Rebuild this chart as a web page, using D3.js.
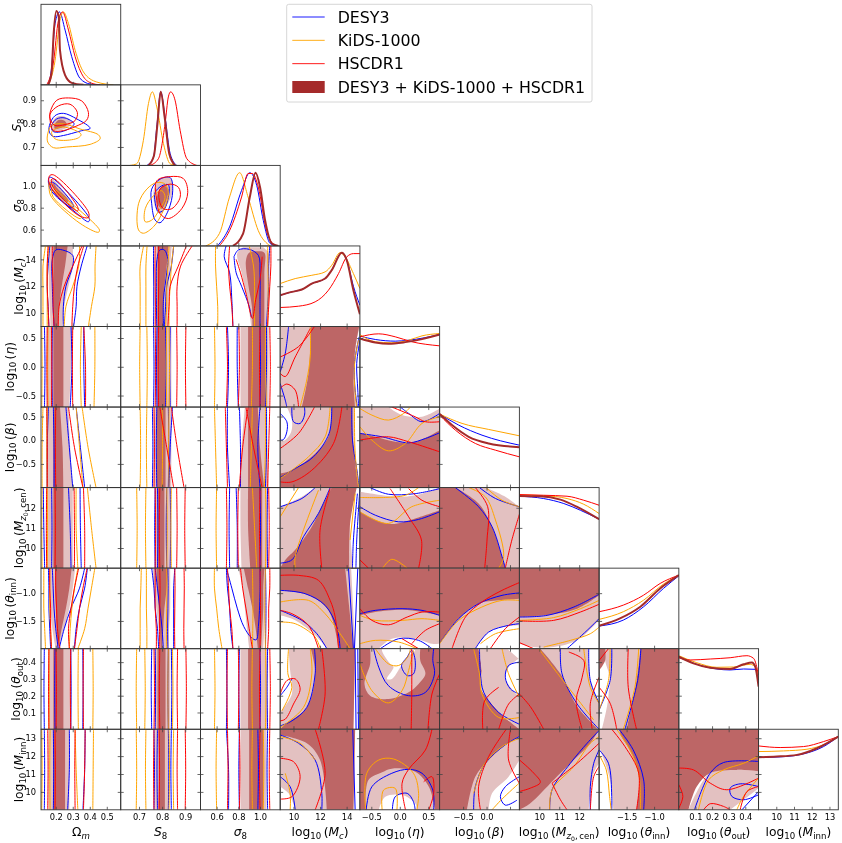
<!DOCTYPE html>
<html><head><meta charset="utf-8">
<script src="https://cdn.jsdelivr.net/npm/d3@7"></script>
<style>html,body{margin:0;padding:0;background:#fff}svg{display:block;font-family:"DejaVu Sans",sans-serif;filter:blur(.3px)}</style>
</head><body><svg id="c" width="842" height="843"></svg>
<script>
// ---- axes ----
const paramRanges=[[0.1135,0.582],[0.621,0.966],[0.451,1.186],[9,15],[-0.7,0.7],[-1,0.7],[9,13],[-2,-0.55],[0,0.48],[9,13.5]];
const tickValues=[[0.2,0.3,0.4,0.5],[0.7,0.8,0.9],[0.6,0.8,1.0],[10,12,14],[-0.5,0,0.5],[-0.5,0,0.5],[10,11,12],[-1.5,-1.0],[0.1,0.2,0.3,0.4],[10,11,12,13]];
const xTickLabelValues=[[0.2,0.3,0.4,0.5],[0.7,0.8,0.9],[0.6,0.8,1.0],[10,12,14],[-0.5,0,0.5],[-0.5,0],[10,11,12],[-1.5,-1.0],[0.1,0.2,0.3,0.4],[10,11,12,13]];
const tickFormats=[".1f",".1f",".1f","d",".1f",".1f","d",".1f",".1f","d"];
const legendNames=["DESY3","KiDS-1000","HSCDR1","DESY3 + KiDS-1000 + HSCDR1"];
// sample heights of the near-vertical contours in rows 3..9
const rowSamples={3:[15,13.5,12,10.5,9],4:[0.7,0.35,0,-0.35,-0.7],5:[0.7,0.275,-0.15,-0.575,-1],6:[13,12,11,10,9],7:[-0.55,-0.91,-1.27,-1.64,-2],8:[0.48,0.36,0.24,0.12,0],9:[13.5,12.375,11.25,10.125,9]};

// ---- 1D marginals: [value, relative density] ----
const d0={k:[[.155,0],[.175,.14],[.188,.64],[.204,.917],[.218,.845],[.225,.43],[.255,.12],[.294,.025],[.363,0]],
 b:[[.157,0],[.176,.22],[.196,.76],[.222,.905],[.255,.68],[.294,.35],[.343,.08],[.402,.01],[.461,0]],
 o:[[.157,0],[.196,.3],[.225,.8],[.245,.905],[.275,.76],[.314,.43],[.363,.16],[.441,.035],[.539,0]],
 r:[[.147,0],[.186,.27],[.216,.8],[.24,.905],[.275,.68],[.314,.35],[.363,.1],[.412,.02],[.461,0]]};
const d1={o:[[.661,0],[.69,.02],[.719,.311],[.741,.768],[.758,.913],[.777,.726],[.806,.27],[.835,.02],[.863,0]],
 b:[[.734,0],[.763,.104],[.777,.477],[.794,.913],[.813,.6],[.835,.145],[.863,0]],
 r:[[.748,0],[.784,.083],[.813,.519],[.827,.85],[.837,.913],[.856,.81],[.878,.436],[.907,.083],[.95,0]],
 k:[[.741,0],[.765,.124],[.78,.519],[.794,.913],[.811,.6],[.831,.145],[.856,0]]};
const d2={o:[[.5,0],[.625,.153],[.719,.607],[.8125,.909],[.89,.607],[.984,.19],[1.094,0]],
 b:[[.609,0],[.719,.236],[.83,.69],[.906,.909],[.97,.75],[1.03,.318],[1.094,.03],[1.156,0]],
 r:[[.625,0],[.719,.19],[.83,.607],[.89,.9],[.93,.9],[.984,.731],[1.06,.19],[1.14,0]],
 k:[[.75,0],[.844,.153],[.906,.607],[.9594,.909],[1.0,.731],[1.047,.318],[1.11,.03],[1.17,0]]};
const d3_={k:[[9,.388],[9.88,.43],[10.63,.459],[11.38,.533],[12.38,.595],[12.88,.70],[13.64,.917],[14.01,.822],[14.51,.45],[15,.153]],
 b:[[9,.388],[9.88,.43],[10.63,.459],[11.38,.533],[12.38,.595],[12.88,.70],[13.64,.917],[14.01,.83],[14.51,.5],[15,.264]],
 o:[[9,.533],[10.13,.595],[11.38,.636],[12.38,.678],[12.88,.76],[13.51,.917],[13.89,.864],[14.51,.657],[15,.471]],
 r:[[9,.236],[10.38,.252],[11.63,.306],[12.63,.45],[13.39,.657],[14.01,.864],[14.51,.905],[15,.905]]};
const d4={k:[[-.7,.851],[-.43,.802],[-.2,.785],[.097,.806],[.39,.843],[.7,.90]],
 b:[[-.7,.88],[-.43,.839],[-.08,.818],[.155,.83],[.7,.90]],
 o:[[-.7,.90],[-.43,.81],[-.14,.798],[.155,.83],[.39,.884],[.7,.913]],
 r:[[-.7,.872],[-.37,.909],[-.08,.872],[.214,.81],[.7,.76]]};
const d5={k:[[-1,.913],[-.737,.776],[-.381,.631],[.046,.548],[.7,.502]],
 b:[[-1,.913],[-.595,.776],[-.097,.651],[.7,.527]],
 o:[[-1,.913],[-.523,.797],[.046,.722],[.7,.643]],
 r:[[-1,.90],[-.666,.714],[-.239,.548],[.188,.465],[.7,.382]]};
const d6={k:[[9,.897],[10.05,.893],[11.06,.851],[11.9,.76],[13,.607]],
 b:[[9,.893],[10.22,.864],[11.23,.802],[12.06,.719],[13,.607]],
 o:[[9,.909],[10.22,.90],[11.39,.864],[12.23,.793],[13,.678]],
 r:[[9,.913],[10.22,.905],[11.39,.893],[12.23,.843],[13,.781]]};
const d7={k:[[-2,.285],[-1.62,.376],[-1.25,.521],[-.89,.748],[-.55,.913]],
 b:[[-2,.281],[-1.56,.355],[-1.19,.521],[-.83,.748],[-.55,.905]],
 o:[[-2,.364],[-1.56,.459],[-1.19,.603],[-.83,.802],[-.55,.913]],
 r:[[-2,.459],[-1.56,.541],[-1.19,.665],[-.89,.81],[-.55,.913]]};
const d8={k:[[0,.90],[.088,.818],[.189,.764],[.309,.748],[.39,.806],[.44,.83],[.46,.777],[.48,.529]],
 b:[[0,.90],[.108,.806],[.229,.748],[.309,.736],[.39,.748],[.46,.744],[.48,.612]],
 o:[[0,.913],[.108,.826],[.229,.769],[.329,.773],[.43,.806],[.466,.756],[.48,.612]],
 r:[[0,.888],[.068,.86],[.189,.872],[.309,.888],[.41,.913],[.45,.88],[.48,.674]]};
const d9={k:[[9,.653],[10.04,.661],[11.17,.682],[12.3,.764],[13.5,.909]],
 b:[[9,.649],[10.22,.657],[11.54,.694],[12.67,.785],[13.5,.909]],
 o:[[9,.723],[10.41,.731],[11.73,.752],[12.77,.818],[13.5,.909]],
 r:[[9,.793],[10.22,.773],[11.54,.785],[12.67,.847],[13.5,.909]]};
const diagonals=[d0,d1,d2,d3_,d4,d5,d6,d7,d8,d9];

// ---- 2D contours. l/d: 95%/68% filled regions, b/o/r: DESY3, KiDS-1000, HSCDR1 contour lines ----
const c10={l:[[[.176,.792],[.202,.827],[.245,.831],[.294,.806],[.265,.782],[.216,.77],[.186,.77]]],
 d:[[[.192,.792],[.216,.815],[.249,.813],[.265,.794],[.222,.78],[.196,.777]]],
 b:[[[.163,.792],[.196,.834],[.245,.844],[.324,.82],[.402,.78],[.343,.768],[.245,.749],[.186,.745],[.163,.763],[.163,.792]],
    [[.176,.792],[.206,.82],[.255,.824],[.308,.799],[.275,.777],[.216,.763],[.182,.768],[.176,.792]]],
 o:[[[.153,.756],[.176,.792],[.245,.799],[.343,.777],[.451,.752],[.461,.735],[.402,.711],[.265,.70],[.186,.697],[.153,.721],[.153,.756]],
    [[.176,.763],[.225,.785],[.294,.777],[.349,.754],[.333,.739],[.245,.728],[.196,.735],[.176,.763]]],
 r:[[[.167,.848],[.206,.90],[.275,.91],[.353,.897],[.392,.848],[.382,.815],[.314,.787],[.245,.77],[.186,.77],[.167,.813],[.167,.848]],
    [[.167,.841],[.216,.876],[.284,.883],[.327,.848],[.314,.813],[.255,.796],[.196,.792],[.171,.813],[.167,.841]]]};
const c20={l:[[[.171,1.06],[.192,1.045],[.314,.79],[.304,.776],[.176,.985]]],
 d:[[[.186,1.03],[.206,.985],[.275,.866],[.265,.85],[.192,.97]]],
 b:[[[.161,1.075],[.176,1.075],[.398,.70],[.392,.672],[.314,.761],[.167,.97],[.161,1.075]],[[.171,1.03],[.186,1.03],[.304,.82],[.294,.80],[.176,.97],[.171,1.03]]],
 o:[[[.163,1.03],[.186,.985],[.457,.597],[.451,.576],[.343,.657],[.176,.895],[.161,.97],[.163,1.03]],[[.176,.97],[.196,.94],[.353,.716],[.343,.70],[.186,.895],[.176,.97]]],
 r:[[[.163,1.09],[.186,1.10],[.392,.761],[.392,.71],[.333,.731],[.167,1.0],[.163,1.09]],[[.176,1.06],[.196,1.06],[.333,.79],[.327,.77],[.186,.985],[.176,1.06]]]};
const c21={l:[[[.765,.97],[.799,1.07],[.835,1.075],[.846,.955],[.82,.82],[.791,.746],[.77,.806]]],
 d:[[[.78,.925],[.806,1.0],[.827,.97],[.82,.88],[.799,.79],[.78,.836]]],
 b:[[[.755,.97],[.791,1.06],[.835,1.075],[.846,.955],[.827,.776],[.791,.663],[.77,.687],[.755,.836],[.755,.97]],[[.77,.94],[.799,1.0],[.827,1.009],[.827,.895],[.806,.776],[.784,.761],[.77,.85],[.77,.94]]],
 o:[[[.698,.836],[.734,.97],[.777,1.03],[.813,1.015],[.827,.925],[.799,.746],[.763,.627],[.719,.567],[.698,.597],[.698,.836]],[[.727,.791],[.763,.91],[.799,.955],[.813,.895],[.791,.791],[.755,.687],[.727,.672],[.727,.791]]],
 r:[[[.777,1.045],[.835,1.084],[.892,1.066],[.911,.94],[.885,.791],[.827,.701],[.791,.746],[.777,.866],[.777,1.045]],[[.791,.97],[.835,1.015],[.871,.985],[.878,.895],[.842,.791],[.806,.791],[.788,.866],[.791,.97]]]};

// columns 0..2, rows 3..9: x value at the row's sample heights
const c30={lv:[[.16,.16,.16,.165,.17],[.30,.30,.275,.25,.24]],dv:[[.186,.186,.186,.19,.19],[.27,.255,.235,.22,.215]],
 b:[[.165,.155,.15,.155,.16],[.385,.35,.325,.32,.305],[[.19,9],[.18,12],[.18,14],[.2,14.7],[.24,14.7],[.3,14.3],[.3,13.5],[.26,12],[.245,10.5],[.245,9]]],
 o:[[.14,.125,.125,.125,.125],[.437,.431,.43,.41,.392],[.16,.15,.15,.15,.15],[.34,.335,.30,.26,.25]],
 r:[[.155,.15,.15,.155,.16],[.18,.18,.185,.185,.19],[.365,.33,.31,.30,.295],[.355,.30,.25,.22,.215]]};
const c40={lv:[[.147],[.30,.29,.28]],dv:[[.186],[.245]],b:[[.134,.137,.134],[.18,.178,.18],[.29,.295,.285],[.365,.365,.37]],o:[[.118,.12,.118],[.155,.153,.155],[.35,.345,.35],[.43,.43,.425]],r:[[.15,.148,.15],[.175,.177,.175],[.30,.298,.30],[.365,.375,.375]]};
const c50={lv:[[.147],[.275,.285,.30]],dv:[[.186],[.225,.24,.245]],b:[[.157,.15,.15],[.186,.19,.19],[.26,.28,.30],[.32,.345,.37]],o:[[.125,.12,.12],[.15,.148,.15],[.32,.34,.36],[.355,.39,.437]],r:[[.147,.15,.15],[.2,.198,.2],[.275,.31,.36]]};
const c60={lv:[[.147],[.30]],dv:[[.186],[.245]],b:[[.127,.13,.135],[.176,.178,.176],[.275,.285,.29],[.343,.345,.35]],o:[[.12,.118,.12],[.15,.152,.15],[.32,.32,.33],[.386,.41,.437]],r:[[.147,.145,.147],[.196,.198,.196],[.308,.31,.31],[.363,.37,.37]]};
const c70={lv:[[.167,.167,.17,.18,.2],[.314,.3,.28,.25,.21]],dv:[[.196,.196,.2,.205,.21],[.294,.28,.26,.235,.215]],
 b:[[.157,.16,.16,.165,.17],[.18,.185,.19,.2,.215],[.37,.34,.29,.25,.22],[.386,.37,.34,.32,.31]],
 o:[[.13,.13,.13,.135,.14],[.165,.165,.165,.17,.175],[.33,.31,.295,.285,.28],[.43,.41,.39,.37,.33]],
 r:[[.165,.165,.17,.17,.175],[.2,.2,.205,.21,.225],[.335,.31,.29,.275,.28],[.385,.36,.34,.325,.31]]};
const c80={lv:[[.157],[.294]],dv:[[.186],[.245]],b:[[.133,.131,.133],[.196,.194,.196],[.288,.29,.288],[.359,.361,.359]],o:[[.11,.112,.11],[.16,.162,.16],[.333,.331,.333],[.418,.42,.418]],r:[[.16,.158,.16],[.202,.204,.202],[.288,.286,.288],[.363,.361,.363]]};
const c90={lv:[[.157],[.28]],dv:[[.186],[.255]],b:[[.133,.135,.133],[.186,.188,.186],[.28,.28,.27],[.373,.37,.36]],o:[[.118,.12,.118],[.167,.165,.167],[.314,.32,.33],[.422,.42,.418]],r:[[.153,.155,.153],[.196,.198,.196],[.314,.312,.314],[.373,.37,.363]]};

const c31={lv:[[.77],[.842,.835,.83,.825,.825]],dv:[[.78],[.827,.82,.81,.806,.806]],
 b:[[.763,.763,.764,.764,.763],[.85,.84,.82,.815,.81],[[.777,9],[.775,12],[.778,14],[.79,14.7],[.81,14.7],[.825,14],[.82,13],[.806,11],[.806,9]]],
 o:[[.72,.705,.705,.705,.705],[.735,.73,.73,.73,.73],[.83,.825,.82,.82,.815],[.85,.84,.835,.83,.83]],
 r:[[.77,.769,.77,.771,.77],[.785,.786,.785,.784,.785],[.93,.88,.865,.865,.865],[.905,.87,.835,.83,.825]]};
const c41={lv:[[.77],[.84]],dv:[[.78],[.815]],b:[[.763,.765,.763],[.778,.776,.778],[.815,.817,.815],[.835,.833,.835]],o:[[.705,.703,.705],[.734,.736,.734],[.82,.818,.82],[.83,.832,.83]],r:[[.77,.772,.77],[.785,.783,.785],[.863,.865,.863],[.903,.901,.903]]};
const c51={lv:[[.763],[.84]],dv:[[.777],[.815]],b:[[.758,.76,.758],[.777,.775,.777],[.827,.829,.827],[.845,.835,.83]],o:[[.705,.707,.705],[.734,.732,.734],[.8,.802,.8],[.83,.828,.83]],r:[[.765,.767,.765],[.84,.865,.895],[.79,.82,.85]]};
const c61={lv:[[.77],[.835]],dv:[[.78],[.81]],b:[[.77,.768,.77],[.78,.782,.78],[.82,.818,.82],[.835,.837,.835]],o:[[.69,.692,.69],[.73,.728,.73],[.82,.822,.82],[.84,.838,.84]],r:[[.77,.772,.77],[.79,.788,.79],[.863,.865,.863],[.9,.898,.9]]};
const c71={lv:[[.76,.765,.775,.785,.79],[.835,.835,.835,.83,.83]],dv:[[.775,.78,.785,.79,.795],[.825,.82,.81,.805,.8]],
 b:[[.755,.765,.77,.78,.785],[.77,.78,.79,.8,.805],[.825,.826,.825,.824,.825],[.855,.85,.85,.85,.85]],
 o:[[.71,.708,.705,.705,.705],[.732,.732,.732,.734,.734],[.82,.821,.82,.819,.82]],r:[[.77,.77,.77,.775,.775],[.79,.791,.79,.789,.79],[.855,.856,.855,.854,.855],[.895,.896,.895,.894,.895]]};
const c81={lv:[[.77],[.835]],dv:[[.78],[.815]],b:[[.755,.753,.755],[.77,.772,.77],[.827,.825,.827],[.84,.842,.84]],o:[[.69,.688,.69],[.725,.727,.725],[.827,.825,.827],[.845,.847,.845]],r:[[.765,.767,.765],[.79,.788,.79],[.867,.865,.867],[.903,.905,.903]]};
const c91={lv:[[.77],[.828]],dv:[[.785],[.812]],b:[[.765,.767,.765],[.78,.778,.78],[.827,.829,.827],[.84,.838,.84]],o:[[.688,.69,.688],[.73,.728,.73],[.83,.832,.83],[.85,.848,.85]],r:[[.765,.763,.765],[.787,.789,.787],[.867,.865,.867],[.9,.902,.9]]};

const c32={l:[[[.79,14.45],[.83,13],[.89,10.7],[.92,9],[1.06,9],[1.08,13],[1.08,14.45],[1.03,14.9],[.845,14.9]]],
 d:[[[.87,13.9],[.89,12.2],[.925,10.5],[.93,9],[1.04,9],[1.04,13],[1.04,14.5],[.97,14.6],[.9,14.5]]],
 b:[[[.6875,15],[.67,14.2],[.72,13],[.74,11],[.75,9]],[1.09,1.08,1.08,1.07,1.06],[[.76,14.2],[.8,14.7],[.9,14.75],[.985,14.3],[1.0,13],[1.0,11],[1.0,9]],[[.76,14.2],[.78,13],[.83,12],[.9,10.5],[.92,9.7]]],
 o:[[.59,.59,.6,.61,.61],[.9,.94,.95,.95,.95],[1.07,1.075,1.07]],
 r:[[.72,.71,.72,.74,.75],[1.1,1.1,1.09,1.08,1.07],[[.78,14],[.82,13],[.87,11.5],[.93,9.6],[.96,11],[1.0,12.5],[1.02,14.2]]]};
const c42={lv:[[.82],[1.08]],dv:[[.89],[1.05]],b:[[.7,.71,.7],[.79,.79,.8],[1.0,1.005,1.0],[1.06,1.06,1.05]],o:[[.58,.585,.58],[.93,.93,.92],[1.05,1.05,1.06]],r:[[.69,.7,.69],[.805,.81,.8],[1.0,.995,1.0],[1.09,1.095,1.09]]};
const c52={lv:[[.86,.83,.81],[1.05,1.07,1.08]],dv:[[.89],[.98,1.0,1.04]],b:[[.7,.7,.72],[.81,.82,.82],[1.0,.98,1.0],[1.06,1.06,1.05]],o:[[.58,.59,.6],[.93,.92,.91],[1.05,1.05,1.04]],r:[[.87,.94,1.02],[.89,.84,.81],[1.09,1.08,1.07],[.68,.69,.7]]};
const c62={lv:[[.82,.82,.83],[1.07]],dv:[[.89,.89,.91],[1.02]],b:[[.72,.715,.72],[.78,.79,.79],[1.0,1.005,1.0],[1.07,1.065,1.07]],o:[[.6,.595,.6],[.93,.95,.97],[1.05,1.055,1.05]],r:[[.69,.695,.69],[.8,.795,.8],[1.0,.995,1.0],[1.08,1.085,1.08]]};
const c72={lv:[[.8,.84,.86,.88,.9],[1.05,1.05,1.05,1.04,1.03]],dv:[[.85,.89,.93,.96,.98],[1.04,1.03,1.03,1.02,1.01]],
 b:[[.69,.7,.72,.73,.75],[1.05,1.055,1.05],[[.69,-.55],[.74,-.91],[.79,-1.27],[.85,-1.6],[.92,-1.8],[.965,-1.84],[.985,-1.6],[1.0,-1.0],[1.0,-.55]]],
 o:[[.58,.58,.6,.62,.65],[.93,.935,.93],[1.05,1.045,1.05]],r:[[.7,.71,.72,.74,.75],[.82,.84,.87,.9,.93],[1.0,1.005,1.0],[1.09,1.09,1.08,1.08,1.07]]};
const c82={lv:[[.82],[1.07]],dv:[[.89],[1.0]],b:[[.69,.695,.69],[.81,.805,.81],[1.0,1.005,1.0],[1.07,1.065,1.07]],o:[[.58,.585,.58],[.93,.925,.93],[1.05,1.055,1.05]],r:[[.7,.695,.7],[.8,.805,.8],[1.0,.995,1.0],[1.09,1.095,1.09]]};
const c92={lv:[[.82],[1.06]],dv:[[.9],[1.03]],b:[[.69,.71,.71],[.81,.805,.81],[.98,.985,.98],[1.07,1.065,1.07]],o:[[.6,.595,.6],[.93,.925,.93],[1.03,1.035,1.03]],r:[[.7,.705,.7],[.81,.815,.81],[1.0,.995,1.0],[1.09,1.085,1.09]]};

// columns 3..8
const c43={l:[[[9,.7],[15,.7],[14.76,.46],[14.59,-.115],[14.76,-.7],[9,-.7]]],
 d:[[[11.33,.7],[14.94,.7],[14.64,.29],[14.51,-.23],[14.64,-.7],[10.63,-.7],[11.13,-.115]]],
 b:[[[9.63,.7],[9.38,.23],[9,-.09]],[[9,-.29],[9.38,-.58],[9.5,-.7]],[[14.94,.52],[14.59,.06],[14.64,-.405],[14.81,-.7]],[[15,.46],[14.76,.06],[14.84,-.405],[14.9,-.7]]],
 o:[[[11.26,.7],[11.26,.17],[11,-.23],[10.5,-.7]],[[14.89,.46],[14.6,.06],[14.59,-.3],[14.76,-.7]]],
 r:[[[11.58,.7],[10.38,.35],[9,.17]],[[11.26,.665],[10.13,.17],[9.38,-.17],[9,-.115]],[[9,-.375],[9.5,-.30],[10.13,-.405],[10.38,-.69]]]};
const c53={l:[[[9.5,.7],[9.88,.425],[9.83,.178],[9.38,.002],[9,-.033],[9,-1],[14.94,-1],[14.64,-.139],[14.59,.7]]],
 d:[[[12.88,.7],[12.63,.072],[11.63,-.28],[9.88,-.633],[9,-.703],[9,-1],[14.89,-1],[14.51,-.139],[14.44,.7]]],
 b:[[[9,.566],[9.5,.39],[9.5,.178],[9.25,.016],[9,.002]],[[9.88,.7],[10,.39],[10.5,.354],[10.83,.53],[10.83,.7]],[[12.88,.7],[12.68,.143],[11.5,-.35],[10.13,-.597],[9,-.788]],[[14.39,.7],[14.44,.002],[14.81,-.703],[14.94,-1]]],
 o:[[[12.76,.7],[12.38,.072],[11.13,-.35],[9,-.809]],[[14.59,.7],[14.64,-.28],[14.9,-1]]],
 r:[[[11.58,.7],[10.38,.143],[9,-.174]],[[13.64,.7],[13.01,-.069],[11.38,-.633],[9.88,-.88],[9,-.88]]]};
const c63={l:[[[11.63,13],[10.63,12.54],[9,12.05],[9,9],[14.51,9],[14.26,11.22],[14.59,13]]],
 d:[[[12.88,13],[12.13,12.05],[11.38,11.06],[10.13,9.91],[9.38,9.41],[9,9],[14.19,9],[14.26,11.22],[14.76,13]]],
 b:[[[11.63,13],[10.63,12.46],[9,12.05]],[[12.76,13],[11.88,11.72],[10.75,10.56],[9.88,9.41],[9,9.25]],[[14.81,12.7],[14.51,10.4],[14.44,9]],[[15,13],[14.76,10.4],[14.7,9]]],
 o:[[[10.38,13],[9,11.55]],[[11.88,12.87],[10.13,9.58],[10.13,9]],[[14.64,12.7],[14.26,10.4]]],
 r:[[[12.76,12.95],[12,10.89],[12.13,9]]]};
const c73={l:[[[9,-.55],[14.34,-.55],[14.64,-2],[12.51,-2],[11.63,-1.76],[10.13,-1.49],[9,-1.4]]],
 d:[[[9,-.95],[11.13,-1.04],[12.63,-1.31],[13.39,-2],[14.51,-2],[13.89,-.55],[9,-.55]]],
 b:[[[9,-.95],[10.88,-1.01],[12.38,-1.22],[13.26,-1.61],[13.51,-2]],[[9,-1.31],[10.63,-1.49],[11.76,-1.73],[12.51,-2]],[[14.14,-.55],[14.51,-2]],[[14.84,-.55],[14.59,-2]]],
 o:[[[9,-1.16],[11.13,-1.13],[12.38,-1.37],[13.51,-1.73],[14.26,-2]],[[9,-1.52],[10.13,-1.55],[11.63,-1.79],[12.01,-2]]],
 r:[[[9,-.68],[10.38,-.68],[11.88,-.77],[12.76,-1.13],[13.14,-1.43],[13.39,-2]],[[9,-1.31],[9.88,-1.37],[11.13,-1.58],[11.88,-2]]]};
const c83={l:[[[9.63,.48],[9.75,.35],[9.88,.21],[9,.1],[9,0],[14.51,0],[14.64,.48]]],
 d:[[[11.31,.48],[11.63,.33],[11,.13],[9.38,.03],[9,0],[14.51,0],[14.64,.48]]],
 b:[[[11.58,.48],[11.63,.33],[11,.13],[9.88,.05],[9,.02]],[[9,.2],[9.5,.25],[9.88,.30]],[[14.64,.48],[14.71,0]],[[14.84,.48],[14.89,0]]],
 o:[[[11.26,.48],[11.38,.33],[10.75,.13],[9,.01]],[[9.63,.48],[9.58,.33],[9.88,.25],[9.13,.11]]],
 r:[[[12.13,.48],[12.38,.21],[11.88,0]],[[9,.21],[9.5,.29],[10.13,.30],[10.5,.24],[10,.15],[9.38,.06],[9,.05]]]};
const c93={l:[[[9,13.18],[9,13.5],[14.64,13.5],[14.51,9],[10.13,9],[9.63,9.92],[9,10.29]]],
 d:[[[9,13.18],[11,12.72],[12,11.78],[12.51,9],[14.51,9],[14.64,13.5],[9,13.5]]],
 b:[[[9,13.18],[10.38,12.72],[11.63,11.78],[12.13,9.92],[12.13,9]],[[9,10.85],[9.75,10.29],[10.13,9]],[[14.46,13.5],[14.64,9]]],
 o:[[[9,13.09],[10.5,12.72],[11.63,11.78]],[[9.38,11.04],[9.75,9.92],[9.75,9]]],
 r:[[[11.63,13.5],[12.38,11.04],[11.63,9]],[[9,11.88],[10,11.69],[10.5,10.85],[9.88,9.73],[9,9.6]]]};
const c54={l:[[[-.7,.7],[-.2,.7],[.04,.53],[.39,.495],[.7,.67],[.7,-1],[-.7,-1]]],
 d:[[[-.7,.157],[-.43,.072],[-.08,-.033],[.27,-.033],[.7,.213],[.7,-1],[-.7,-1]]],
 b:[[[.01,.7],[.155,.566],[.39,.39],[.7,.566]],[[-.7,.143],[-.31,.072],[.155,-.055],[.45,.037],[.7,.157]]],
 o:[[[-.7,.67],[-.49,.53],[-.2,.425],[.07,.566],[.185,.7]],[[-.7,.284],[-.49,.002],[-.2,-.224],[.097,-.069],[.39,.354],[.7,.495]]],
 r:[[[-.14,.7],[.27,.495],[.45,.39],[.7,.39]],[[-.7,.002],[-.2,.072],[.155,-.033],[.7,-.245]]]};
const c64={l:[[[-.7,12.79],[-.43,12.67],[.04,12.54],[.39,12.7],[.7,13],[.7,9],[-.7,9]]],
 d:[[[-.7,11.8],[-.43,11.39],[-.14,11.19],[.27,11.47],[.7,11.88],[.7,9],[-.7,9]]],
 b:[[[-.52,13],[-.2,12.67],[.27,12.7],[.7,12.95]],[[-.7,12.05],[-.43,11.63],[-.02,11.3],[.33,11.42],[.7,11.8]]],
 o:[[[-.7,12.51],[-.255,12.51],[.1,12.62],[.33,13]],[[-.7,11.8],[-.2,11.22],[.21,12.05],[.7,12.37]],[[-.3,9],[-.14,9.44],[.13,9]]],
 r:[[[-.17,12.95],[.155,11.55],[.38,10.4],[.33,9]],[[.155,12.95],[.39,12.37],[.7,12.05]],[[-.7,9.41],[-.55,9]]]};
const c74={l:[[[-.7,-.55],[.7,-.55],[.7,-1.91],[.565,-1.91],[.27,-1.82],[-.14,-1.82],[-.37,-2],[-.7,-2]]],
 d:[[[-.7,-.55],[.7,-.55],[.7,-1.4],[.39,-1.34],[.04,-1.3],[-.43,-1.34],[-.7,-1.4]]],
 b:[[[-.7,-1.37],[-.43,-1.31],[.04,-1.28],[.39,-1.31],[.7,-1.4]],[[-.34,-2],[-.02,-1.82],[.33,-1.85],[.565,-2]]],
 o:[[[-.7,-1.4],[-.43,-1.49],[.04,-1.49],[.39,-1.46],[.7,-1.49]],[[-.7,-1.91],[-.43,-1.85],[-.02,-1.88],[.3,-2]]],
 r:[[[-.7,-1.28],[-.49,-1.49],[-.2,-1.57],[.13,-1.43],[.39,-1.34],[.7,-1.34]],[[.04,-1.82],[.33,-2]],[[.21,-1.91],[.45,-1.67],[.7,-1.55]]]};
const c84={d:[[[-.7,.48],[.7,.48],[.7,0],[-.7,0]]],
 l2:[[[-.52,.48],[.36,.48],[.36,.41],[.45,.33],[.33,.27],[.155,.22],[-.2,.18],[-.52,.2],[-.62,.27],[-.52,.39]]],
 w:[[[-.31,.48],[-.17,.39],[-.11,.37],[-.225,.30],[-.14,.30],[.01,.37],[.13,.43],[.27,.47]]],
 b:[[[-.46,.48],[-.37,.37],[-.2,.26],[.155,.2],[.45,.22],[.61,.33],[.58,.41],[.595,.48]],[[.13,.43],[.03,.38],[.13,.32],[.24,.33],[.27,.41],[.21,.47],[.13,.43]]],
 o:[[[-.7,.39],[-.49,.23],[-.2,.157],[.04,.23],[.155,.35],[.24,.47]],[[-.43,.48],[-.2,.39],[-.02,.38],[.155,.44],[.185,.48]]],
 r:[[[.2,0],[.21,.21],[.21,.48]],[[.7,.33],[.565,.21],[.495,0]]]};
const c94={d:[[[-.7,13.5],[.7,13.5],[.7,9],[-.7,9]]],
 l2:[[[-.6,9],[-.55,10.66],[-.31,11.1],[-.14,11.3],[.27,11.13],[.51,10.29],[.62,9]]],
 w:[[[-.37,9],[-.255,9.73],[.04,9.82],[.27,9.36],[.3,9]]],
 b:[[[-.59,9],[-.49,10.29],[-.14,11.04],[.155,11.26],[.39,11.04],[.58,10.1],[.595,9]],[[-.13,9],[-.08,9.73],[.13,9.92],[.24,9.45],[.27,9]]],
 o:[[[-.6,9],[-.58,11.04],[-.37,11.78],[-.11,11.84],[.24,11.04],[.33,9.92],[.3,9]],[[-.31,9],[-.285,10.1],[-.08,10.2],[-.05,9]]],
 r:[[[.565,13.5],[.45,12.34],[.155,11.26],[.04,10.48],[.1,9]],[[.42,10.57],[.565,10.85],[.595,9.92],[.51,9]]]};
const c65={l:[[[-1,13],[-.026,13],[.4,12.54],[.7,12.05],[.7,9],[-1,9]]],
 d:[[[-1,13],[-.666,13],[-.17,12.21],[.117,11.06],[.33,9.58],[.4,9],[-1,9]]],
 b:[[[-.666,13],[-.17,12.05],[.117,11.06],[.33,9.58],[.4,9]],[[-.15,13],[.19,12.46],[.7,12.05]]],
 o:[[[-.011,13],[.33,12.37],[.7,12.05]],[[-.38,13],[-.026,12.54],[.19,11.39],[.365,9.58],[.26,9]]],
 r:[[[-.24,13],[.024,12.05],[.01,10.4],[-.04,9]],[[.707,11.72],[.54,10.4],[.4,9]]]};
const c75={l:[[[-1,-.55],[.7,-.55],[.7,-1.58],[.33,-1.61],[.045,-1.7],[-.24,-2],[-1,-2]]],
 d:[[[-1,-.55],[.7,-.55],[.7,-1.1],[.26,-1.13],[-.17,-1.19],[-.63,-1.49],[-1,-1.9]]],
 b:[[[-1,-1.9],[-.595,-1.46],[-.17,-1.19],[.33,-1.04],[.7,-.996]],[[-.24,-2],[.045,-1.7],[.47,-1.58],[.7,-1.55]]],
 o:[[[-1,-1.91],[-.595,-1.49],[-.1,-1.25],[.33,-1.13],[.7,-1.13]],[[-.13,-1.91],[.19,-1.73],[.7,-1.64]]],
 r:[[[-.737,-2],[-.45,-1.43],[-.1,-1.16],[.33,-.95],[.7,-.81]],[[.08,-2],[.4,-1.64],[.7,-1.43]]]};
const c85={d:[[[-1,.48],[-.17,.48],[-.1,.35],[-.13,.25],[.117,.15],[.47,.05],[.7,.03],[.7,0],[-1,0]]],
 l2:[[[-.17,.48],[.44,.48],[.685,.42],[.47,.37],[.39,.31],[.54,.24],[.7,.19],[.7,0],[.47,.05],[.117,.15],[-.13,.25],[-.1,.35]]],
 b:[[[-.15,.48],[-.13,.33],[-.06,.22],[.26,.10],[.7,.03]],[[.7,.40],[.47,.38],[.4,.31],[.51,.24],[.7,.21]]],
 o:[[[-.275,.48],[-.15,.33],[-.1,.21],[.26,.07],[.7,.07]],[[.33,.48],[.47,.33],[.7,.19]]],
 r:[[[-.08,0],[-.04,.17],[.26,.25]],[[.7,.21],[.47,.15],[.26,0]]]};
const c95={l:[[[-1,13.5],[.7,13.5],[.7,11.78],[.47,10.85],[.117,9.92],[.045,9],[-1,9]]],
 d:[[[-1,13.5],[.7,13.5],[.7,13.09],[.4,12.63],[.045,11.78],[-.24,10.85],[-.417,9],[-1,9]]],
 b:[[[-.275,9],[-.24,10.29],[-.026,11.6],[.4,12.63],[.7,13.09]],[[.7,10.85],[.4,10.29],[.295,9.73],[.4,9.26],[.65,9.54]]],
 o:[[[-.275,9.92],[-.06,11.5],[.33,12.53],[.7,13]],[[.117,9],[.33,9.6],[.7,10.5]]],
 r:[[[-.13,9],[-.17,10.29],[.045,11.97],[.42,13.5]],[[.51,13.5],[.47,11.78],[.7,10.48]]]};
const c76={l:[[[9,-.55],[13,-.55],[13,-1.49],[11.9,-1.85],[10.72,-1.97],[9.72,-1.97],[9,-1.91]]],
 d:[[[9,-.55],[13,-.55],[13,-1.04],[11.9,-1.28],[10.22,-1.4],[9,-1.43]]],
 b:[[[9,-1.43],[10.39,-1.4],[11.73,-1.25],[13,-1.02]],[[11.39,-2],[12.4,-1.67],[13,-1.46]]],
 o:[[[9,-1.49],[10.72,-1.44],[12.06,-1.28],[13,-1.13]],[[10.22,-1.97],[11.56,-1.85],[12.56,-1.73],[13,-1.61]]],
 r:[[[9,-1.5],[10.72,-1.49],[12.06,-1.34],[13,-1.2]],[[9,-1.89],[9.72,-2]]]};
const c86={l:[[[9,.48],[12.48,.48],[12.56,.29],[13,.16],[13,0],[9,0]]],
 d:[[[9,.48],[10.05,.48],[11.06,.33],[11.9,.135],[12.9,.005],[9,0]]],
 b:[[[11.06,.48],[11.14,.33],[11.9,.15],[13,0]],[[12.48,.48],[12.56,.29],[13,.155]]],
 o:[[[9.97,.48],[11.06,.31],[11.98,.17],[12.73,.055]],[[12.23,.48],[12.56,.25],[13,.155]]],
 r:[[[11.48,.46],[12.23,.41],[12.15,.31],[11.85,.17],[12.15,0]],[[9,.21],[9.55,.135],[10.22,0]],[[12.65,0],[12.56,.155],[13,.31]]]};
const c96={l:[[[13,13.5],[13,11.6],[12.73,11.05],[12.48,9],[9,9],[9,13.5]]],
 d:[[[9,13.5],[13,13.5],[12.56,12.72],[11.56,11.6],[10.72,10.67],[9.55,9.37],[9,9]]],
 b:[[[10.52,9],[10.64,10.12],[11.56,11.6],[12.4,12.72],[13,13.43]],[[12.56,9],[12.56,10.3],[12.73,11.6],[13,12.35]]],
 o:[[[10.52,9],[10.64,10.12],[11.73,11.42],[12.56,12.72],[13,13.09]]],
 r:[[[10.64,10.49],[11.9,11.6],[13,12.72]],[[10.64,10.49],[11.06,9.56],[11.39,9]],[[9,11.79],[9.72,11.05],[10.05,10.53],[9.55,10.21],[9,10.02]],[[12.56,9],[12.73,10.86],[13,11.42]]]};
const c87={d:[[[-1.25,.48],[-1.32,.29],[-1.5,0],[-.55,0],[-.55,.48]],[[-2,.48],[-1.89,.48],[-1.89,.41],[-2,.35]]],
 l:[[[-1.89,.48],[-1.25,.48],[-1.32,.29],[-1.5,0],[-2,0],[-1.8,.29],[-1.89,.41]]],
 w:[[[-2,.035],[-1.89,.27],[-1.83,.21],[-1.95,.0],[-2,0]]],
 b:[[[-1.24,.48],[-1.3,.29],[-1.53,0]],[[-1.77,.48],[-1.8,.29],[-2,.115]]],
 o:[[[-1.28,.48],[-1.35,.25],[-1.56,0]],[[-1.8,.48],[-1.83,.29],[-2,.115]]],
 r:[[[-1.47,.48],[-1.47,.25],[-1.32,0]],[[-2,.25],[-1.8,.155],[-1.68,0]],[[-2,.41],[-1.83,.48]]]};
const c97={l:[[[-2,13.5],[-1.62,13.5],[-1.25,11.05],[-1.28,9],[-1.74,9],[-1.8,10.67],[-2,12.53]]],
 d:[[[-1.62,13.5],[-.55,13.5],[-.55,9],[-1.32,9],[-1.27,10.67],[-1.38,11.98],[-1.62,13.28]]],
 b:[[[-1.64,13.5],[-1.38,12.35],[-1.19,10.67],[-1.19,9]],[[-2,12.35],[-1.83,11.6],[-1.77,9.75],[-1.77,9]]],
 o:[[[-1.68,13.5],[-1.44,12.35],[-1.28,11.05],[-1.25,9]],[[-2,12.07],[-1.87,11.23],[-1.81,9.75],[-1.78,9]]],
 r:[[[-1.77,13.5],[-1.53,12.53],[-1.28,11.05],[-1.32,9]]]};
const c98={l:[[[.058,9],[.108,10.0],[.189,11.05],[.349,11.23],[.48,11.14],[.48,10.21],[.39,9.56],[.309,9]]],
 d:[[[0,13.5],[.48,13.5],[.48,11.14],[.349,11.23],[.189,11.05],[.108,10.3],[.058,9],[0,9]]],
 b:[[[.094,9],[.189,11.05],[.269,11.64],[.48,11.7]],[[.48,9.84],[.39,9.56],[.319,9.75],[.309,10.21],[.369,10.45],[.48,10.3]],[[.38,9],[.48,10.02]]],
 o:[[[.118,9],[.179,10.67],[.269,11.23],[.39,11.6],[.48,12.01]],[[.349,9],[.39,9.75],[.48,10.77]]],
 r:[[[0,11.33],[.088,11.23],[.189,10.49],[.289,10.12],[.48,10.77]],[[0,10.4],[.024,9.75],[0,9.09]],[[.149,9],[.189,9.34],[.269,9.19],[.309,9]],[[.369,9],[.41,10.02],[.48,10.3]]]};

const offDiagonal={"1,0":c10,"2,0":c20,"2,1":c21,"3,0":c30,"4,0":c40,"5,0":c50,"6,0":c60,"7,0":c70,"8,0":c80,"9,0":c90,
 "3,1":c31,"4,1":c41,"5,1":c51,"6,1":c61,"7,1":c71,"8,1":c81,"9,1":c91,"3,2":c32,"4,2":c42,"5,2":c52,"6,2":c62,"7,2":c72,"8,2":c82,"9,2":c92,
 "4,3":c43,"5,3":c53,"6,3":c63,"7,3":c73,"8,3":c83,"9,3":c93,"5,4":c54,"6,4":c64,"7,4":c74,"8,4":c84,"9,4":c94,
 "6,5":c65,"7,5":c75,"8,5":c85,"9,5":c95,"7,6":c76,"8,6":c86,"9,6":c96,"8,7":c87,"9,7":c97,"9,8":c98};

// ---- layout and style ----
const X0=41,DX=79.73,Y0=4.3,DY=80.55,N=10;
const COL={b:"#0000ff",o:"#ffa500",r:"#ff0000",k:"#a52a2a",light:"#e3c1c1",dark:"#bd6666"};
const svg=d3.select("#c");
const defs=svg.append("defs");
const xS=paramRanges.map((d,i)=>d3.scaleLinear().domain(d).range([X0+i*DX,X0+(i+1)*DX]));
const yS=paramRanges.map((d,i)=>d3.scaleLinear().domain(d).range([Y0+(i+1)*DY,Y0+i*DY]));
const catOpen=d3.curveCatmullRom.alpha(.5),catClosed=d3.curveCatmullRomClosed.alpha(.5);

function expand(line,row){
  if(typeof line[0]!=="number")return line;
  const s=rowSamples[row];
  if(line.length===1)return [[line[0],s[0]],[line[0],s[4]]];
  if(line.length===3)return line.map((v,i)=>[v,s[i*2]]);
  return line.map((v,i)=>[v,s[i]]);
}
function linePath(pts,x,y){
  const closed=pts.length>3&&pts[0][0]===pts[pts.length-1][0]&&pts[0][1]===pts[pts.length-1][1];
  const p=closed?pts.slice(0,-1):pts;
  return d3.line().x(d=>x(d[0])).y(d=>y(d[1])).curve(closed?catClosed:catOpen)(p);
}
// filled ring: straight along the panel frame, smooth elsewhere
function ringPath(pts,x,y){
  const px=pts.map(d=>[x(d[0]),y(d[1])]);
  const [x1,x2]=x.range(),[y2,y1]=y.range();
  const edge=p=>Math.abs(p[0]-x1)<1.5||Math.abs(p[0]-x2)<1.5||Math.abs(p[1]-y1)<1.5||Math.abs(p[1]-y2)<1.5;
  const n=px.length;let st=-1;
  for(let i=0;i<n;i++){if(edge(px[i])&&edge(px[(i+n-1)%n])){st=i;break;}}
  if(st<0)return d3.line().curve(catClosed)(px);
  const ring=[];for(let i=0;i<n;i++)ring.push(px[(st+i)%n]);ring.push(px[st]);
  let out="M"+ring[0].join(","),run=[ring[0]];
  const gen=d3.line().curve(catOpen);
  const flush=()=>{if(run.length>1)out+=gen(run).replace(/^M[^CL]*/,"");};
  for(let i=1;i<ring.length;i++){
    if(edge(ring[i])&&edge(ring[i-1])){flush();out+="L"+ring[i].join(",");run=[ring[i]];}
    else run.push(ring[i]);
  }
  flush();
  return out+"Z";
}
function band(v,row){
  const L=expand(v[0],row),R=expand(v[1],row);
  return L.concat(R.slice().reverse());
}
const fmtOf=i=>d3.format(tickFormats[i]);

for(let r=0;r<N;r++){
  for(let c=0;c<=r;c++){
    const x=xS[c],px0=x.range()[0],py0=Y0+r*DY;
    const g=svg.append("g");
    const id=`cp${r}_${c}`;
    defs.append("clipPath").attr("id",id).append("rect").attr("x",px0).attr("y",py0).attr("width",DX).attr("height",DY);
    const body=g.append("g").attr("clip-path",`url(#${id})`);
    if(r===c){
      const y=d3.scaleLinear().domain([0,1]).range([py0+DY,py0]);
      const dg=diagonals[r];
      [["b",1],["o",1],["r",1],["k",2]].forEach(([k,w])=>{
        body.append("path").attr("fill","none").attr("stroke",COL[k]).attr("stroke-width",w)
          .attr("d",d3.line().x(d=>x(d[0])).y(d=>y(d[1])).curve(d3.curveMonotoneX)(dg[k]));
      });
    } else {
      const y=yS[r],P=offDiagonal[r+","+c];
      const fill=(list,col)=>(list||[]).forEach(poly=>body.append("path").attr("fill",col).attr("d",ringPath(poly,x,y)));
      if(P.lv)fill([band(P.lv,r)],COL.light);
      fill(P.l,COL.light);
      if(P.dv)fill([band(P.dv,r)],COL.dark);
      fill(P.d,COL.dark);
      fill(P.l2,COL.light);
      fill(P.w,"#fff");
      ["b","o","r"].forEach(k=>(P[k]||[]).forEach(line=>{
        body.append("path").attr("fill","none").attr("stroke",COL[k]).attr("stroke-width",1)
          .attr("d",linePath(expand(line,r),x,y));
      }));
    }
    // frame
    g.append("rect").attr("x",px0).attr("y",py0).attr("width",DX).attr("height",DY).attr("fill","none").attr("stroke","#333").attr("stroke-width",.9);
    const styleAxis=a=>{a.selectAll(".domain").remove();a.selectAll(".tick line").attr("stroke","#444").attr("stroke-width",.8);a.selectAll("text").remove();};
    // inward ticks
    styleAxis(g.append("g").attr("transform",`translate(0,${py0+DY})`).call(d3.axisBottom(x).tickValues(tickValues[c]).tickSize(-3)));
    if(r!==c){
      styleAxis(g.append("g").attr("transform",`translate(0,${py0})`).call(d3.axisTop(x).tickValues(tickValues[c]).tickSize(-3)));
      styleAxis(g.append("g").attr("transform",`translate(${px0},0)`).call(d3.axisLeft(yS[r]).tickValues(tickValues[r]).tickSize(-3)));
      styleAxis(g.append("g").attr("transform",`translate(${px0+DX},0)`).call(d3.axisRight(yS[r]).tickValues(tickValues[r]).tickSize(-3)));
    } else if(r>0){
      styleAxis(g.append("g").attr("transform",`translate(${px0},0)`).call(d3.axisLeft(yS[r]).tickValues(tickValues[r]).tickSize(-3)));
    }
    // tick labels
    if(r===N-1){
      const a=g.append("g").attr("transform",`translate(0,${py0+DY})`).call(d3.axisBottom(x).tickValues(xTickLabelValues[c]).tickSize(0).tickPadding(4).tickFormat(fmtOf(c)));
      a.select(".domain").remove();a.selectAll("text").attr("font-size",8.3).attr("font-family","DejaVu Sans").attr("fill","#000");
    }
    if(c===0&&r>0){
      const a=g.append("g").attr("transform",`translate(${px0},0)`).call(d3.axisLeft(yS[r]).tickValues(tickValues[r]).tickSize(0).tickPadding(5).tickFormat(fmtOf(r)));
      a.select(".domain").remove();a.selectAll("text").attr("font-size",8.3).attr("font-family","DejaVu Sans").attr("fill","#000");
    }
  }
}

// ---- axis labels ----
const axisLabelParts=[
 [["Ω",0],["m",1,1]],[["S",0,1],["8",1]],[["σ",0,1],["8",1]],
 [["log",0],["10",1],["\u2009(",0],["M",0,1],["c",1,1],[")",0]],
 [["log",0],["10",1],["\u2009(",0],["η",0,1],[")",0]],
 [["log",0],["10",1],["\u2009(",0],["β",0,1],[")",0]],
 [["log",0],["10",1],["\u2009(",0],["M",0,1],["z",1,1],["0",2],[",\u2009cen",1],[")",0]],
 [["log",0],["10",1],["\u2009(",0],["θ",0,1],["inn",1],[")",0]],
 [["log",0],["10",1],["\u2009(",0],["θ",0,1],["out",1],[")",0]],
 [["log",0],["10",1],["\u2009(",0],["M",0,1],["inn",1],[")",0]]];
const yLabelBaseline=[0,21,21,23,13.5,13.5,23,13.5,20,23];
function writeLabel(t,parts,size){
  let lvl=0;
  parts.forEach(([s,sub,it])=>{
    const ts=t.append("tspan").text(s).attr("font-size",size*(sub===2?0.5:sub===1?0.7:1)).attr("font-style",it?"italic":"normal");
    const target=sub===2?4.6:sub===1?2.5:0;
    if(target!==lvl)ts.attr("dy",target-lvl);
    lvl=target;
  });
}
const LS=12.3;
for(let i=0;i<N;i++){
  const t=svg.append("text").attr("x",X0+(i+.5)*DX).attr("y",836).attr("text-anchor","middle");
  writeLabel(t,axisLabelParts[i],LS);
  if(i>0){
    const cy=Y0+(i+.5)*DY;
    const ty=svg.append("text").attr("transform",`translate(${yLabelBaseline[i]},${cy}) rotate(-90)`).attr("text-anchor","middle");
    writeLabel(ty,axisLabelParts[i],LS);
  }
}

// ---- legend ----
const lg=svg.append("g");
lg.append("rect").attr("x",286.7).attr("y",4.3).attr("width",305.3).attr("height",97.7).attr("rx",2).attr("fill","#fff").attr("fill-opacity",.8).attr("stroke","#ccc").attr("stroke-width",.8);
const legendY=d3.scalePoint().domain(legendNames).range([17,87]);
const legendCols=[COL.b,COL.o,COL.r];
legendNames.forEach((name,i)=>{
  const y=legendY(name);
  if(i<3)lg.append("line").attr("x1",292.3).attr("x2",324.7).attr("y1",y).attr("y2",y).attr("stroke",legendCols[i]).attr("stroke-width",.9);
  else lg.append("rect").attr("x",292.3).attr("y",y-6).attr("width",32.4).attr("height",12).attr("fill",COL.k);
  lg.append("text").attr("x",337.7).attr("y",y+5.8).attr("font-size",15.8).attr("fill","#000").text(name);
});
</script></body></html>
